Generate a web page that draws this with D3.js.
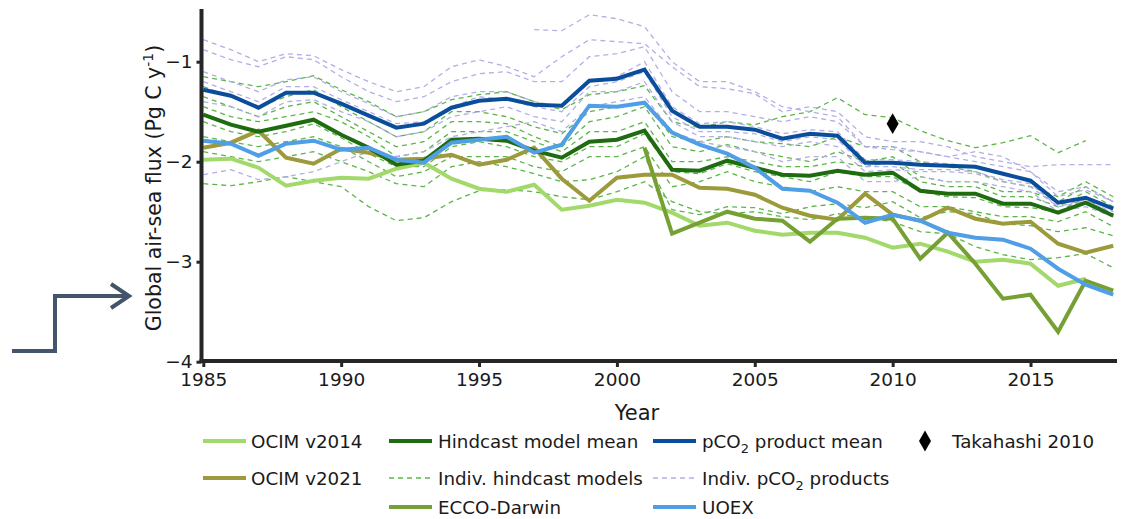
<!DOCTYPE html>
<html>
<head>
<meta charset="utf-8">
<script src="https://cdn.jsdelivr.net/npm/d3@7"></script>
<style>
  html, body { margin: 0; padding: 0; background: #fff; }
  svg { display: block; font-family: "DejaVu Sans", sans-serif; }
</style>
</head>
<body>
<svg id="chart" width="1127" height="519"></svg>
<script>
// ---------------- DATA ----------------
const years = d3.range(1985, 2019);
const xTicks = [1985, 1990, 1995, 2000, 2005, 2010, 2015];
const yTicks = [-1, -2, -3, -4];

const ocim2014 = [-1.98,-1.97,-2.06,-2.24,-2.19,-2.16,-2.17,-2.07,-2.01,-2.17,-2.27,-2.30,-2.23,-2.48,-2.44,-2.38,-2.41,-2.51,-2.64,-2.61,-2.69,-2.73,-2.71,-2.71,-2.76,-2.86,-2.82,-2.90,-3.00,-2.98,-3.02,-3.24,-3.17,null];
const ocim2021 = [-1.86,-1.81,-1.69,-1.96,-2.02,-1.87,-1.91,-1.98,-1.97,-1.93,-2.03,-1.98,-1.86,-2.17,-2.39,-2.16,-2.13,-2.13,-2.26,-2.27,-2.33,-2.46,-2.54,-2.58,-2.32,-2.53,-2.59,-2.46,-2.57,-2.62,-2.60,-2.82,-2.91,-2.84];
const eccoDarwin = [null,null,null,null,null,null,null,null,null,null,null,null,null,null,null,null,-1.86,-2.72,-2.61,-2.50,-2.57,-2.59,-2.80,-2.57,-2.56,-2.57,-2.97,-2.71,-3.02,-3.37,-3.33,-3.70,-3.19,-3.29];
const uoex = [-1.79,-1.82,-1.94,-1.82,-1.79,-1.88,-1.86,-1.98,-2.01,-1.81,-1.78,-1.75,-1.91,-1.83,-1.44,-1.45,-1.41,-1.71,-1.83,-1.92,-2.06,-2.27,-2.29,-2.41,-2.61,-2.53,-2.59,-2.71,-2.76,-2.78,-2.87,-3.07,-3.23,-3.33];
const hindcastMean = [-1.53,-1.63,-1.70,-1.64,-1.58,-1.73,-1.86,-2.03,-1.99,-1.78,-1.77,-1.79,-1.89,-1.96,-1.80,-1.78,-1.69,-2.08,-2.09,-1.99,-2.06,-2.13,-2.14,-2.09,-2.13,-2.11,-2.29,-2.32,-2.32,-2.42,-2.42,-2.51,-2.41,-2.54];
const pco2Mean = [-1.28,-1.34,-1.46,-1.31,-1.31,-1.42,-1.54,-1.66,-1.62,-1.46,-1.39,-1.37,-1.43,-1.44,-1.19,-1.17,-1.08,-1.49,-1.65,-1.65,-1.68,-1.77,-1.72,-1.74,-2.01,-2.01,-2.03,-2.04,-2.05,-2.12,-2.19,-2.41,-2.36,-2.47];

const hindcastModels = [
  [-1.15,-1.20,-1.25,-1.20,-1.14,-1.28,-1.40,-1.55,-1.50,-1.38,-1.33,-1.30,-1.40,-1.48,-1.33,-1.30,-1.24,-1.60,-1.66,-1.60,-1.63,-1.55,-1.50,-1.36,-1.53,-1.56,-1.69,-1.79,-1.86,-1.81,-1.74,-1.91,-1.79,null],
  [-2.22,-2.24,-2.20,-2.15,-2.20,-2.25,-2.45,-2.59,-2.56,-2.40,-2.29,-2.28,-2.30,-2.35,-2.38,-2.30,-2.20,-2.40,-2.50,-2.52,-2.50,-2.55,-2.58,-2.52,-2.56,-2.60,-2.70,-2.72,-2.85,-2.93,-2.98,-2.96,-2.92,-3.06],
  [-1.90,-1.95,-2.00,-1.95,-1.90,-2.00,-2.10,-2.22,-2.25,-2.05,-2.00,-2.05,-2.12,-2.20,-2.18,-2.10,-1.95,-2.48,-2.53,-2.45,-2.46,-2.52,-2.45,-2.42,-2.46,-2.40,-2.56,-2.50,-2.52,-2.62,-2.64,-2.70,-2.66,-2.74],
  [-1.35,-1.45,-1.55,-1.45,-1.40,-1.55,-1.70,-1.85,-1.80,-1.60,-1.60,-1.62,-1.75,-1.85,-1.60,-1.55,-1.45,-1.85,-1.90,-1.83,-1.90,-1.95,-2.00,-1.90,-2.00,-1.95,-2.15,-2.20,-2.20,-2.30,-2.30,-2.40,-2.25,-2.40],
  [-1.60,-1.70,-1.75,-1.70,-1.62,-1.76,-1.92,-2.05,-2.05,-1.85,-1.80,-1.85,-1.95,-2.00,-1.85,-1.85,-1.72,-2.10,-2.12,-2.02,-2.10,-2.15,-2.20,-2.10,-2.15,-2.15,-2.30,-2.35,-2.36,-2.45,-2.46,-2.50,-2.36,-2.55],
  [-1.25,-1.35,-1.45,-1.35,-1.28,-1.45,-1.60,-1.75,-1.70,-1.50,-1.50,-1.55,-1.65,-1.72,-1.50,-1.45,-1.40,-1.75,-1.80,-1.75,-1.80,-1.82,-1.85,-1.75,-1.85,-1.85,-2.00,-2.05,-2.10,-2.20,-2.25,-2.35,-2.20,-2.35],
  [-1.75,-1.80,-1.85,-1.80,-1.75,-1.85,-2.00,-2.15,-2.10,-1.95,-1.95,-1.95,-2.05,-2.10,-1.95,-1.95,-1.85,-2.25,-2.20,-2.10,-2.20,-2.25,-2.30,-2.25,-2.30,-2.30,-2.45,-2.45,-2.50,-2.55,-2.55,-2.60,-2.50,-2.65],
  [-1.45,-1.55,-1.60,-1.55,-1.50,-1.60,-1.75,-1.95,-1.90,-1.70,-1.70,-1.70,-1.80,-1.90,-1.70,-1.70,-1.60,-2.00,-2.00,-1.95,-2.00,-2.05,-2.05,-2.00,-2.05,-2.00,-2.20,-2.25,-2.25,-2.35,-2.35,-2.45,-2.30,-2.45]
];

const pco2Products = [
  [-0.78,-0.88,-1.00,-0.92,-0.94,-1.08,-1.20,-1.30,-1.25,-1.05,-0.98,-1.05,-1.15,-0.95,-0.78,-0.80,-0.82,-1.05,-1.25,-1.27,-1.32,-1.50,-1.45,-1.50,-1.75,-1.80,-1.80,-1.85,-1.95,-2.00,-2.05,-2.03,-2.03,-2.03],
  [null,null,null,null,null,null,null,null,null,null,null,null,-0.68,-0.69,-0.53,-0.57,-0.65,-1.00,-1.20,-1.20,-1.30,-1.45,-1.50,-1.55,-1.85,-1.88,-1.90,-1.95,-1.90,-1.95,-2.10,-2.30,-2.25,-2.40],
  [-2.13,-2.08,-2.18,-2.15,-2.10,-2.00,-1.90,-1.95,-1.90,-1.75,-1.70,-1.65,-1.60,-1.70,-1.45,-1.40,-1.35,-1.70,-1.80,-1.85,-1.90,-2.00,-1.95,-1.95,-2.20,-2.20,-2.15,-2.20,-2.20,-2.25,-2.30,-2.50,-2.45,-2.55],
  [-0.88,-0.98,-1.05,-0.95,-0.98,-1.15,-1.30,-1.40,-1.35,-1.20,-1.12,-1.10,-1.20,-1.20,-0.95,-0.92,-0.85,-1.30,-1.50,-1.50,-1.55,-1.60,-1.55,-1.60,-1.85,-1.85,-1.90,-1.95,-2.00,-2.05,-2.10,-2.35,-2.28,-2.40],
  [-1.40,-1.45,-1.55,-1.40,-1.38,-1.50,-1.60,-1.75,-1.70,-1.55,-1.50,-1.45,-1.55,-1.60,-1.30,-1.30,-1.20,-1.60,-1.75,-1.75,-1.80,-1.85,-1.80,-1.85,-2.10,-2.08,-2.10,-2.10,-2.12,-2.20,-2.25,-2.45,-2.40,-2.50],
  [-1.20,-1.30,-1.40,-1.25,-1.25,-1.38,-1.50,-1.62,-1.60,-1.45,-1.35,-1.38,-1.45,-1.50,-1.25,-1.20,-1.10,-1.55,-1.70,-1.70,-1.72,-1.80,-1.75,-1.78,-2.05,-2.05,-2.08,-2.08,-2.10,-2.18,-2.22,-2.45,-2.38,-2.52],
  [-1.10,-1.20,-1.30,-1.18,-1.15,-1.30,-1.42,-1.55,-1.50,-1.35,-1.30,-1.30,-1.40,-1.45,-1.20,-1.15,-1.00,-1.45,-1.62,-1.60,-1.65,-1.72,-1.68,-1.70,-1.98,-1.98,-2.00,-2.02,-2.05,-2.12,-2.18,-2.42,-2.35,-2.48]
];

const takahashi = [{year: 2010, value: -1.62}];

// ---------------- CHART ----------------
const svg = d3.select("#chart");
const x = d3.scaleLinear().domain([1985, 2018.1]).range([203.3, 1116]);
const y = d3.scaleLinear().domain([-4, -0.473]).range([361.7, 9]);

const line = d3.line()
  .defined(d => d[1] !== null)
  .x(d => x(d[0]))
  .y(d => y(d[1]));
const pairs = arr => years.map((yr, i) => [yr, arr[i]]);

const C = {
  ocim2014: "#a2d96a",
  ocim2021: "#9c9a3c",
  ecco: "#76a034",
  uoex: "#4f9ee6",
  hMean: "#1e6b10",
  hInd: "#5cb548",
  pMean: "#0a4e9b",
  pInd: "#b3aee6"
};

const plot = svg.append("g");

hindcastModels.forEach(s => {
  plot.append("path").attr("d", line(pairs(s)))
    .attr("fill", "none").attr("stroke", C.hInd)
    .attr("stroke-width", 1.3).attr("stroke-dasharray", "5,4");
});
pco2Products.forEach(s => {
  plot.append("path").attr("d", line(pairs(s)))
    .attr("fill", "none").attr("stroke", C.pInd)
    .attr("stroke-width", 1.3).attr("stroke-dasharray", "5,4");
});

const mains = [
  [ocim2014, C.ocim2014],
  [ocim2021, C.ocim2021],
  [eccoDarwin, C.ecco],
  [hindcastMean, C.hMean],
  [uoex, C.uoex],
  [pco2Mean, C.pMean]
];
mains.forEach(([s, c]) => {
  plot.append("path").attr("d", line(pairs(s)))
    .attr("fill", "none").attr("stroke", c)
    .attr("stroke-width", 4).attr("stroke-linejoin", "miter");
});

const diamond = d3.symbol().type(d3.symbolDiamond).size(125);
takahashi.forEach(d => {
  plot.append("path").attr("d", diamond)
    .attr("transform", `translate(${x(d.year)},${y(d.value)})`)
    .attr("fill", "#000");
});

// Axes
const axisColor = "#262626";
const yAxis = svg.append("g").attr("transform", "translate(201.5,0)")
  .call(d3.axisLeft(y).tickValues(yTicks).tickSize(5).tickFormat(d3.format("d")));
const xAxis = svg.append("g").attr("transform", "translate(0,361)")
  .call(d3.axisBottom(x).tickValues(xTicks).tickSize(6).tickFormat(d3.format("d")));
[yAxis, xAxis].forEach(g => {
  g.select(".domain").remove();
  g.selectAll(".tick line").attr("stroke", axisColor).attr("stroke-width", 3);
  g.selectAll(".tick text").attr("fill", "#1a1a1a").attr("font-size", 18.5)
    .attr("font-family", "DejaVu Sans, sans-serif");
});
yAxis.selectAll(".tick text").attr("x", -9);
xAxis.selectAll(".tick text").attr("y", 12);
// spines
svg.append("line").attr("x1", 201.5).attr("x2", 201.5).attr("y1", 9).attr("y2", 363)
  .attr("stroke", axisColor).attr("stroke-width", 4);
svg.append("line").attr("x1", 199.5).attr("x2", 1117).attr("y1", 361).attr("y2", 361)
  .attr("stroke", axisColor).attr("stroke-width", 4);

// Axis labels
svg.append("text").attr("x", 637).attr("y", 420).attr("text-anchor", "middle")
  .attr("font-size", 21).attr("fill", "#1a1a1a").text("Year");
const yl = svg.append("text").attr("transform", "translate(161,188) rotate(-90)")
  .attr("text-anchor", "middle").attr("font-size", 20.5).attr("fill", "#1a1a1a");
yl.append("tspan").text("Global air-sea flux (Pg C y");
yl.append("tspan").attr("dy", -8).attr("font-size", 14).text("-1");
yl.append("tspan").attr("dy", 8).text(")");

// Legend
const legend = svg.append("g").attr("font-size", 18.3).attr("fill", "#1a1a1a");
const legendItems = [
  {x1: 203, tx: 251, row: 0, color: C.ocim2014, dash: null, label: ["OCIM v2014"]},
  {x1: 203, tx: 251, row: 1, color: C.ocim2021, dash: null, label: ["OCIM v2021"]},
  {x1: 389, tx: 438, row: 0, color: C.hMean, dash: null, label: ["Hindcast model mean"]},
  {x1: 389, tx: 438, row: 1, color: C.hInd, dash: "5,4", label: ["Indiv. hindcast models"]},
  {x1: 389, tx: 438, row: 2, color: C.ecco, dash: null, label: ["ECCO-Darwin"]},
  {x1: 653, tx: 702, row: 0, color: C.pMean, dash: null, label: ["pCO", "2", " product mean"]},
  {x1: 653, tx: 702, row: 1, color: C.pInd, dash: "5,4", label: ["Indiv. pCO", "2", " products"]},
  {x1: 653, tx: 702, row: 2, color: C.uoex, dash: null, label: ["UOEX"]}
];
const rowY = [441, 478, 507];
legendItems.forEach(it => {
  const ly = rowY[it.row];
  legend.append("line").attr("x1", it.x1).attr("x2", it.x1 + 43)
    .attr("y1", ly).attr("y2", ly).attr("stroke", it.color)
    .attr("stroke-width", it.dash ? 1.3 : 4)
    .attr("stroke-dasharray", it.dash);
  const t = legend.append("text").attr("x", it.tx).attr("y", ly + 6.5);
  t.append("tspan").text(it.label[0]);
  if (it.label.length > 1) {
    t.append("tspan").attr("dy", 5).attr("font-size", 13).text(it.label[1]);
    t.append("tspan").attr("dy", -5).text(it.label[2]);
  }
});
legend.append("path").attr("d", diamond)
  .attr("transform", `translate(925,${rowY[0]})`).attr("fill", "#000");
legend.append("text").attr("x", 952).attr("y", rowY[0] + 6.5).text("Takahashi 2010");

// Arrow annotation
const arrowColor = "#44546a";
svg.append("path").attr("d", "M12,351 L55,351 L55,296 L128,296")
  .attr("fill", "none").attr("stroke", arrowColor).attr("stroke-width", 4);
svg.append("path").attr("d", "M111,284 L129,296 L111,308")
  .attr("fill", "none").attr("stroke", arrowColor).attr("stroke-width", 4)
  .attr("stroke-linejoin", "miter");
</script>
</body>
</html>
